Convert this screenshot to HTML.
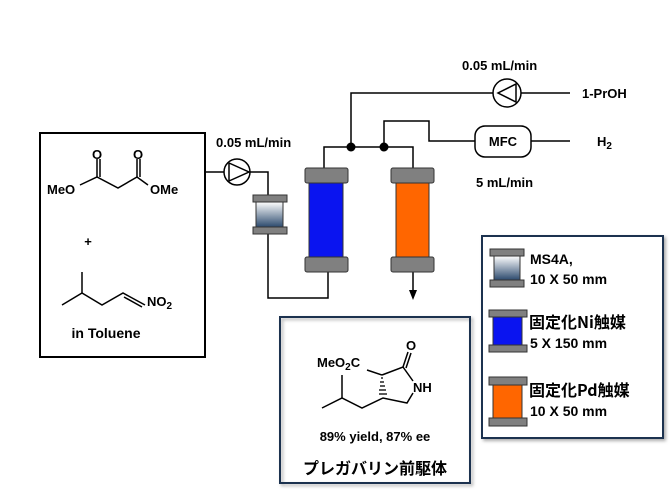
<!DOCTYPE html>
<html><head><meta charset="utf-8"><style>
html,body{margin:0;padding:0;background:#fff;}
svg{display:block;}
text{font-family:"Liberation Sans","Noto Sans CJK JP",sans-serif;font-weight:bold;fill:#000;}
.jp{font-family:"Noto Sans CJK JP",sans-serif;font-weight:bold;}
</style></head><body>
<svg width="670" height="503" viewBox="0 0 670 503" xmlns="http://www.w3.org/2000/svg">
<defs>
<linearGradient id="ms" x1="0" y1="0" x2="0" y2="1">
<stop offset="0" stop-color="#ffffff"/><stop offset="1" stop-color="#2c4a6e"/>
</linearGradient>
<filter id="sh" x="-5%" y="-5%" width="115%" height="115%"><feDropShadow dx="2" dy="2" stdDeviation="1.5" flood-color="#888" flood-opacity="0.7"/></filter>
</defs>
<g stroke="#000" stroke-width="1.5" fill="none">
<rect x="40" y="133" width="165" height="224" stroke-width="2"/>
<polyline points="80,185 97,177 118,188 137,177 148,185"/>
<line x1="97" y1="177" x2="97" y2="159"/><line x1="100" y1="177" x2="100" y2="159"/>
<line x1="137" y1="177" x2="137" y2="159"/><line x1="140" y1="177" x2="140" y2="159"/>
<line x1="82" y1="272" x2="82" y2="293"/>
<polyline points="62,305 82,293 102,305 123,293 145,305"/>
<line x1="124" y1="297" x2="142" y2="307"/>
<line x1="205" y1="172" x2="224" y2="172"/>
<circle cx="237" cy="172" r="13"/>
<polygon points="229,163 229,181 249,172"/>
<polyline points="250,172 268,172 268,196"/>
<polyline points="268,233 268,298 328,298 328,272"/>
<polyline points="324,168 324,147 413,147 413,168"/>
<polyline points="351,147 351,93 493,93"/>
<circle cx="507" cy="93" r="14"/>
<polygon points="516,84 516,102 498,93"/>
<line x1="521" y1="93" x2="570" y2="93"/>
<polyline points="384,147 384,121 429,121 429,141 475,141"/>
<rect x="475" y="126" width="56" height="31" rx="10"/>
<line x1="531" y1="141" x2="570" y2="141"/>
<line x1="413" y1="272" x2="413" y2="292"/>
<line x1="367" y1="370" x2="382" y2="375"/>
<polyline points="382,375 403,367 413,381"/>
<line x1="403" y1="367" x2="408" y2="352"/><line x1="406" y1="368" x2="411" y2="353"/>
<polyline points="413,393 407,403 383,398 362,408 342,398 322,408"/>
<line x1="342" y1="398" x2="342" y2="375"/>
</g>
<polygon points="413,300 409,290 417,290" fill="#000"/>
<circle cx="351" cy="147" r="4.5" fill="#000"/>
<circle cx="384" cy="147" r="4.5" fill="#000"/>
<g stroke="#000" stroke-width="1.3">
<line x1="381" y1="378" x2="383" y2="378"/><line x1="380" y1="382" x2="384" y2="382"/>
<line x1="380" y1="386" x2="385" y2="386"/><line x1="379" y1="390" x2="386" y2="390"/>
<line x1="379" y1="394" x2="387" y2="394"/>
</g>
<g stroke="#333" stroke-width="1">
<rect x="256" y="202" width="27" height="25" fill="url(#ms)"/>
<rect x="253" y="195" width="34" height="7" fill="#808080"/>
<rect x="253" y="227" width="34" height="7" fill="#808080"/>
<rect x="309" y="183" width="34" height="75" fill="#0a14f0"/>
<rect x="305" y="168" width="43" height="15" rx="2" fill="#808080"/>
<rect x="305" y="257" width="43" height="15" rx="2" fill="#808080"/>
<rect x="396" y="183" width="33" height="75" fill="#ff6600"/>
<rect x="391" y="168" width="43" height="15" rx="2" fill="#808080"/>
<rect x="391" y="257" width="43" height="15" rx="2" fill="#808080"/>
</g>
<rect x="482" y="236" width="181" height="202" fill="#fff" stroke="#1f3050" stroke-width="2" filter="url(#sh)"/>
<g stroke="#333" stroke-width="1">
<rect x="494" y="256" width="26" height="24" fill="url(#ms)"/>
<rect x="490" y="249" width="34" height="7" fill="#808080"/>
<rect x="490" y="280" width="34" height="7" fill="#808080"/>
<rect x="493" y="316" width="29" height="30" fill="#0a14f0"/>
<rect x="489" y="310" width="38" height="7" fill="#808080"/>
<rect x="489" y="345" width="38" height="7" fill="#808080"/>
<rect x="493" y="384" width="29" height="35" fill="#ff6600"/>
<rect x="489" y="377" width="38" height="8" fill="#808080"/>
<rect x="489" y="418" width="38" height="8" fill="#808080"/>
</g>
<rect x="280" y="317" width="190" height="166" fill="none" stroke="#1f3050" stroke-width="2" filter="url(#sh)"/>
<text x="97" y="159" font-size="13" text-anchor="middle">O</text>
<text x="138" y="159" font-size="13" text-anchor="middle">O</text>
<text x="47" y="194" font-size="13">MeO</text>
<text x="150" y="194" font-size="13">OMe</text>
<text x="88" y="246" font-size="13" text-anchor="middle">+</text>
<text x="147" y="306" font-size="13">NO<tspan font-size="10" dy="3">2</tspan></text>
<text x="106" y="338" font-size="14" text-anchor="middle">in Toluene</text>
<text x="216" y="147" font-size="13">0.05 mL/min</text>
<text x="462" y="70" font-size="13">0.05 mL/min</text>
<text x="582" y="98" font-size="13">1-PrOH</text>
<text x="503" y="146" font-size="13" text-anchor="middle">MFC</text>
<text x="597" y="146" font-size="13">H<tspan font-size="10" dy="3">2</tspan></text>
<text x="476" y="187" font-size="13">5 mL/min</text>
<text x="530" y="264" font-size="14">MS4A,</text>
<text x="530" y="284" font-size="14">10 X 50 mm</text>
<text x="529" y="328" font-size="16" class="jp">固定化Ni触媒</text>
<text x="530" y="348" font-size="14">5 X 150 mm</text>
<text x="529" y="396" font-size="16" class="jp">固定化Pd触媒</text>
<text x="530" y="416" font-size="14">10 X 50 mm</text>
<text x="317" y="367" font-size="13">MeO<tspan font-size="10" dy="3">2</tspan><tspan dy="-3">C</tspan></text>
<text x="411" y="350" font-size="13" text-anchor="middle">O</text>
<text x="413" y="392" font-size="13">NH</text>
<text x="375" y="441" font-size="13" text-anchor="middle">89% yield, 87% ee</text>
<text x="375" y="474" font-size="16" text-anchor="middle" class="jp">プレガバリン前駆体</text>
</svg>
</body></html>
